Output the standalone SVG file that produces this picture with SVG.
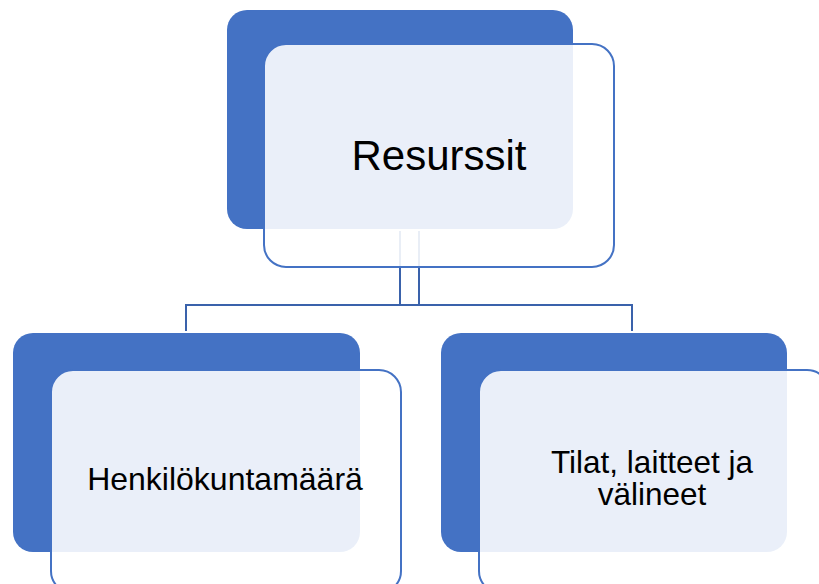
<svg xmlns="http://www.w3.org/2000/svg" width="819" height="584" viewBox="0 0 819 584">
<style>
.back{fill:#4472C4;}
.front{fill:#FFFFFF;fill-opacity:0.89;stroke:#4472C4;stroke-width:2;}
.conn{fill:none;stroke:#3A62AB;stroke-width:2;}
text{font-family:"Liberation Sans",Arial,sans-serif;fill:#000000;text-anchor:middle;}
</style>
<rect width="819" height="584" fill="#FFFFFF"/>
<g id="connectors">
<path class="conn" d="M419,231 V305 H186 V331"/>
<path class="conn" d="M400,231 V305 H632 V331"/>
</g>
<g id="node-resurssit">
<rect class="back" x="227" y="10" width="346" height="219" rx="20"/>
<rect class="front" x="264" y="44" width="350" height="223" rx="22"/>
<text x="439" y="170" font-size="42">Resurssit</text>
</g>
<g id="node-henkilokunta">
<rect class="back" x="13" y="333" width="347" height="219" rx="20"/>
<rect class="front" x="51" y="370" width="350" height="223" rx="22"/>
<text x="225" y="490" font-size="32">Henkilökuntamäärä</text>
</g>
<g id="node-tilat">
<rect class="back" x="441" y="333" width="346" height="219" rx="20"/>
<rect class="front" x="479" y="370" width="350" height="223" rx="22"/>
<text x="652" y="473" font-size="31.5">Tilat, laitteet ja</text>
<text x="652" y="505" font-size="31.5">välineet</text>
</g>
</svg>
